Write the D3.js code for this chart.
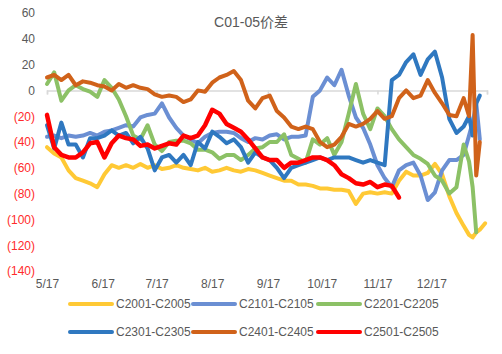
<!DOCTYPE html>
<html>
<head>
<meta charset="UTF-8">
<title>C01-05价差</title>
<script src="https://cdn.jsdelivr.net/npm/d3@7"></script>
<style>
  body { margin: 0; background: #fff; }
  text { font-family: "Liberation Sans", Arial, "Noto Sans CJK SC", sans-serif; }
</style>
</head>
<body>
<script>
  // days counted from 5/17
  const days = [0, 4, 8, 12, 16, 20, 24, 28, 32, 36,
    40, 44, 48, 52, 56, 60, 64, 68, 72, 76,
    80, 84, 88, 92, 96, 100, 104, 108, 112, 116,
    120, 124, 128, 132, 136, 140, 144, 148, 152, 156,
    160, 164, 168, 172, 176, 180, 184, 188, 192, 196,
    200, 204, 208, 212, 216, 220, 224, 228, 232,
    235, 237, 239, 241, 244];

  const c2001 = [-44, -49, -52, -62, -68, -70, -72, -75, -65, -58,
    -60, -58, -60, -57, -60, -58, -61, -60, -58, -60,
    -61, -62, -60, -63, -62, -60, -62, -63, -61, -62,
    -64, -66, -68, -70, -70, -73, -73, -74, -76, -76,
    -77, -77, -78, -88, -80, -79, -80, -79, -80, -70,
    -63, -66, -66, -64, -57, -65, -82, -95, -105,
    -112, -114, -110, -108, -103];

  const c2101 = [-36, -35, -37, -35, -36, -35, -33, -35, -32, -31,
    -29, -27, -28, -21, -19, -18, -10, -21, -29, -35,
    -38, -41, -36, -33, -32, -32, -33, -37, -40, -37,
    -38, -35, -34, -38, -36, -36, -35, -5, 0, 10,
    4, 16, -4, -21, -29, -42, -58, -68, -75, -62,
    -58, -56, -66, -85, -79, -62, -54, -54, -50,
    -35, -25, -10, -38, null];

  const c2201 = [5, 14, -8, 0, 4, 1, -1, -5, 8, 2,
    -7, -20, -35, -38, -27, -42, -47, -40, -39, -39,
    -41, -46, -46, -48, -53, -50, -50, -54, -50, -45,
    -44, -40, -40, -34, -50, -53, -56, -38, -42, -37,
    -50, -40, -18, 5, -18, -30, -14, -20, -30, -38,
    -44, -50, -53, -57, -66, -70, -80, -75, -42,
    -55, -75, -110, null, null];

  const c2301 = [-27, -45, -25, -42, -42, -52, -37, -37, -35, -31,
    -35, -33, -41, -36, -45, -62, -52, -50, -56, -50,
    -58, -40, -45, -32, -36, -41, -38, -44, -56, -48,
    -52, -54, -60, -68, -60, -58, -56, -54, -52, -54,
    -52, -52, -52, -54, -56, -54, -56, -58, 8, 12,
    22, 28, 12, 24, 30, 10, -22, -33, -28,
    -20, -35, -10, -4, null];

  const c2401 = [10, 12, 8, 12, 4, 7, 6, 4, 3, 0,
    5, 2, 4, 2, 1, -3, -5, -4, -5, -9,
    -7, 0, -1, 6, 10, 12, 15, 8, -8, -14,
    -6, -4, -16, -21, -28, -30, -28, -30, -40, -44,
    -42, -36, -26, -28, -26, -22, -16, -22, -20, -6,
    0, -6, -4, 8, -2, -10, -19, -20, -6,
    -20, 43, -66, -40, null];

  const c2501 = [-19, -44, -50, -52, -52, -48, -41, -40, -52, -41,
    -35, -37, -38, -43, -42, -45, -43, -41, -42, -35,
    -37, -35, -27, -15, -18, -26, -29, -32, -38, -45,
    -52, -54, -54, -60, -56, -56, -54, -52, -52, -54,
    -58, -65, -68, -72, -73, -71, -75, -73, -74, -83,
    null, null, null, null, null, null, null, null, null,
    null, null, null, null, null];

  const seriesNames = ["C2001-C2005", "C2101-C2105", "C2201-C2205",
    "C2301-C2305", "C2401-C2405", "C2501-C2505"];
  const seriesValues = [c2001, c2101, c2201, c2301, c2401, c2501];
  const colors = ["#ffc935", "#6b8fd3", "#8cc166", "#2f78c0", "#d0621a", "#ff0000"];

  const monthLabels = ["5/17", "6/17", "7/17", "8/17", "9/17", "10/17", "11/17", "12/17"];
  const monthDays = [0, 31, 61, 92, 123, 153, 184, 214];
  const yTicks = [60, 40, 20, 0, -20, -40, -60, -80, -100, -120, -140];

  const w = 502, h = 354;

  const svg = d3.select("body").append("svg")
    .attr("width", w)
    .attr("height", h)
    .style("background", "#fff");

  const xScale = d3.scaleLinear().domain([0, 245]).range([47, 487]);
  const yScale = d3.scaleLinear().domain([-140, 60]).range([271, 13]);

  // title
  svg.append("text")
    .attr("x", 251)
    .attr("y", 27)
    .attr("text-anchor", "middle")
    .style("font-size", "14px")
    .style("fill", "#595959")
    .text("C01-05价差");

  // y axis labels, negatives in red brackets
  const yAxis = d3.axisLeft(yScale)
    .tickValues(yTicks)
    .tickSize(0)
    .tickPadding(0)
    .tickFormat(d => d < 0 ? "(" + Math.abs(d) + ")" : d);

  const gy = svg.append("g")
    .attr("transform", "translate(35,0)")
    .call(yAxis);
  gy.select(".domain").remove();
  gy.selectAll("text")
    .style("font-size", "12px")
    .style("font-family", "'Liberation Sans', Arial, sans-serif")
    .style("fill", d => d < 0 ? "#ff2b2b" : "#595959");

  // zero line with a tick every two months
  const zeroAxis = d3.axisBottom(xScale)
    .tickValues([0, 61, 123, 184, 245])
    .tickSize(4)
    .tickFormat("");
  const gz = svg.append("g")
    .attr("transform", "translate(0," + yScale(0) + ")")
    .call(zeroAxis);
  gz.select(".domain").attr("stroke", "#d9d9d9").attr("stroke-width", 1.5);
  gz.selectAll(".tick line").attr("stroke", "#d9d9d9").attr("stroke-width", 1.5);

  // month labels at the bottom
  const xAxis = d3.axisBottom(xScale)
    .tickValues(monthDays)
    .tickSize(0)
    .tickPadding(0)
    .tickFormat((d, i) => monthLabels[i]);
  const gx = svg.append("g")
    .attr("transform", "translate(0,279)")
    .call(xAxis);
  gx.select(".domain").remove();
  gx.selectAll("text")
    .style("font-size", "12px")
    .style("font-family", "'Liberation Sans', Arial, sans-serif")
    .style("fill", "#595959");

  // the series
  const line = d3.line()
    .defined(d => d[1] !== null)
    .x(d => xScale(d[0]))
    .y(d => yScale(d[1]));

  seriesValues.forEach((vals, i) => {
    svg.append("path")
      .datum(days.map((d, j) => [d, vals[j]]))
      .attr("fill", "none")
      .attr("stroke", colors[i])
      .attr("stroke-width", i === 5 ? 4.5 : 4)
      .attr("stroke-linejoin", "round")
      .attr("stroke-linecap", "round")
      .attr("d", line);
  });

  // legend, three per row
  const legend = svg.append("g");
  const colX = [70, 193, 318];
  const rowY = [304, 332];
  seriesNames.forEach((name, i) => {
    const lx = colX[i % 3];
    const ly = rowY[Math.floor(i / 3)];
    legend.append("line")
      .attr("x1", lx).attr("x2", lx + 42)
      .attr("y1", ly).attr("y2", ly)
      .attr("stroke", colors[i])
      .attr("stroke-width", 4)
      .attr("stroke-linecap", "round");
    legend.append("text")
      .attr("x", lx + 46)
      .attr("y", ly + 4)
      .style("font-size", "12px")
      .style("fill", "#595959")
      .text(name);
  });
</script>
</body>
</html>
